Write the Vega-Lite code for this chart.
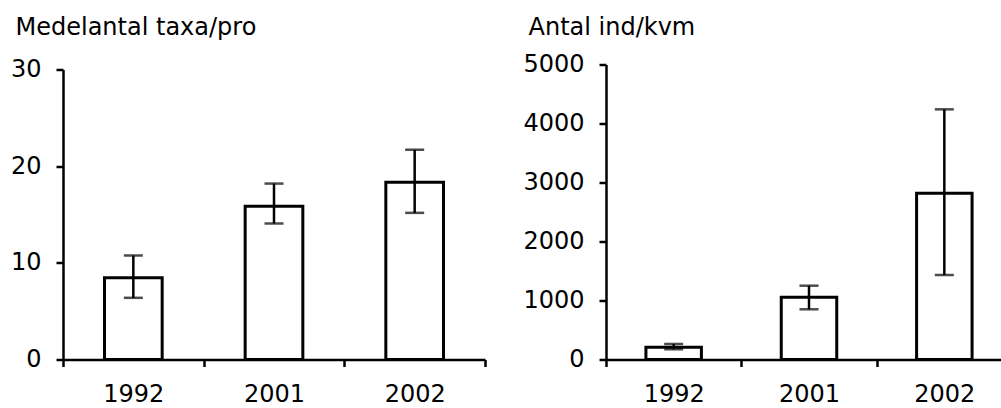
{
  "$schema": "https://vega.github.io/schema/vega-lite/v6.json",
  "padding": {"left": 10, "top": 15.5, "right": 0, "bottom": 0},
  "background": "white",
  "spacing": 35,
  "config": {
    "font": "DejaVu Sans",
    "view": {"stroke": null},
    "axis": {
      "domainColor": "black", "domainWidth": 2.5, "tickColor": "black", "tickWidth": 2.5,
      "tickSize": 7, "labelFont": "DejaVu Sans", "labelFontSize": 24, "labelColor": "black",
      "labelPadding": 15, "grid": false, "title": null
    },
    "title": {"font": "DejaVu Sans", "fontSize": 24, "fontWeight": "normal", "color": "black", "anchor": "start", "frame": "group"}
  },
  "datasets": {
    "taxa": [
      {"year": "1992", "mean": 8.45, "lo": 6.38, "hi": 10.76},
      {"year": "2001", "mean": 15.86, "lo": 14.07, "hi": 18.2},
      {"year": "2002", "mean": 18.34, "lo": 15.17, "hi": 21.7}
    ],
    "ind": [
      {"year": "1992", "mean": 207, "lo": 173, "hi": 263},
      {"year": "2001", "mean": 1054, "lo": 851, "hi": 1251},
      {"year": "2002", "mean": 2817, "lo": 1432, "hi": 4240}
    ]
  },
  "hconcat": [
    {
      "width": 422, "height": 295,
      "title": {"text": "Medelantal taxa/pro", "dx": -47.5, "offset": 17.5},
      "data": {"name": "taxa"},
      "encoding": {
        "x": {"field": "year", "type": "nominal", "scale": {"paddingInner": 0, "paddingOuter": 0},
              "axis": {"labelAngle": 0, "tickBand": "extent", "labelPadding": 16}}
      },
      "layer": [
        {"mark": {"type": "bar", "fill": "white", "stroke": "black", "strokeWidth": 3, "width": {"band": 0.41}},
         "encoding": {"y": {"field": "mean", "type": "quantitative", "scale": {"domain": [0, 30], "range": [295, 5]},
                            "axis": {"values": [0, 10, 20, 30], "format": "d"}}}},
        {"mark": {"type": "rule", "color": "black", "strokeWidth": 2.5},
         "encoding": {"y": {"field": "lo", "type": "quantitative"}, "y2": {"field": "hi"}}},
        {"mark": {"type": "tick", "color": "black", "thickness": 2.5, "size": 19},
         "encoding": {"y": {"field": "lo", "type": "quantitative"}}},
        {"mark": {"type": "tick", "color": "black", "thickness": 2.5, "size": 19},
         "encoding": {"y": {"field": "hi", "type": "quantitative"}}}
      ]
    },
    {
      "width": 406, "height": 295,
      "title": {"text": "Antal ind/kvm", "dx": -77.5, "offset": 12.5},
      "data": {"name": "ind"},
      "encoding": {
        "x": {"field": "year", "type": "nominal", "scale": {"paddingInner": 0, "paddingOuter": 0},
              "axis": {"labelAngle": 0, "tickBand": "extent", "labelPadding": 16}}
      },
      "layer": [
        {"mark": {"type": "bar", "fill": "white", "stroke": "black", "strokeWidth": 3, "width": {"band": 0.41}},
         "encoding": {"y": {"field": "mean", "type": "quantitative", "scale": {"domain": [0, 5000]},
                            "axis": {"values": [0, 1000, 2000, 3000, 4000, 5000], "format": "d"}}}},
        {"mark": {"type": "rule", "color": "black", "strokeWidth": 2.5},
         "encoding": {"y": {"field": "lo", "type": "quantitative"}, "y2": {"field": "hi"}}},
        {"mark": {"type": "tick", "color": "black", "thickness": 2.5, "size": 19},
         "encoding": {"y": {"field": "lo", "type": "quantitative"}}},
        {"mark": {"type": "tick", "color": "black", "thickness": 2.5, "size": 19},
         "encoding": {"y": {"field": "hi", "type": "quantitative"}}}
      ]
    }
  ]
}
